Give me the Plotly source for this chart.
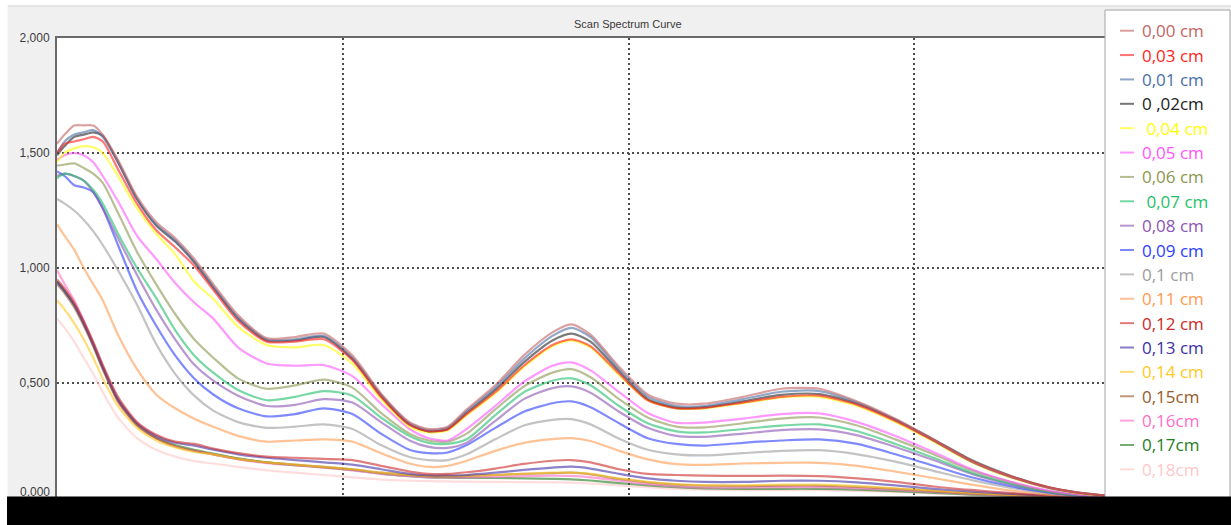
import plotly.graph_objects as go

# Wavelength samples (nm) shared by every scan
wavelength = [200, 204, 209, 214, 219, 224, 232, 242, 252, 262, 272, 282, 295, 310,
              325, 340, 355, 370, 385, 395, 405, 415, 430, 445, 460, 470, 480, 495,
              510, 525, 540, 560, 580, 600, 620, 640, 660, 680, 700, 720, 735, 750]

labels = ["0,00 cm", "0,03 cm", "0,01 cm", "0 ,02cm", " 0,04 cm", "0,05 cm", "0,06 cm",
          " 0,07 cm", "0,08 cm", "0,09 cm", "0,1 cm", "0,11 cm", "0,12 cm", "0,13 cm",
          "0,14 cm", "0,15cm", "0,16cm", "0,17cm", "0,18cm"]

colors = ["#c46464", "#ff1e1e", "#4a6fa5", "#222222", "#ffff00", "#ff55ff", "#8c9650",
          "#1fbf6a", "#8b55b5", "#2b3dff", "#9c9c9c", "#ff9a50", "#cc2a2a", "#4030a8",
          "#ffc81e", "#9a5a2a", "#ff6ec8", "#1e7d1e", "#ffc8c8"]

s_000 = [1.54, 1.58, 1.62, 1.62, 1.62, 1.58, 1.47, 1.31, 1.20, 1.13, 1.04, 0.93, 0.795, 0.695,
         0.70, 0.715, 0.62, 0.455, 0.33, 0.30, 0.31, 0.385, 0.49, 0.62, 0.72, 0.755, 0.71, 0.57,
         0.45, 0.41, 0.41, 0.44, 0.475, 0.475, 0.42, 0.345, 0.255, 0.16, 0.095, 0.045, 0.025, 0.012]
s_003 = [1.50, 1.54, 1.55, 1.56, 1.57, 1.55, 1.43, 1.28, 1.165, 1.09, 1.01, 0.905, 0.77, 0.68,
         0.68, 0.69, 0.60, 0.44, 0.318, 0.29, 0.298, 0.365, 0.46, 0.575, 0.665, 0.69, 0.66, 0.54,
         0.425, 0.39, 0.392, 0.415, 0.44, 0.445, 0.405, 0.335, 0.25, 0.16, 0.095, 0.047, 0.024, 0.011]
s_001 = [1.50, 1.55, 1.58, 1.59, 1.60, 1.57, 1.46, 1.30, 1.19, 1.12, 1.03, 0.92, 0.785, 0.69,
         0.69, 0.705, 0.61, 0.45, 0.325, 0.295, 0.305, 0.378, 0.48, 0.605, 0.705, 0.74, 0.70, 0.56,
         0.44, 0.40, 0.40, 0.43, 0.462, 0.465, 0.415, 0.34, 0.25, 0.158, 0.093, 0.045, 0.024, 0.011]
s_002 = [1.49, 1.53, 1.57, 1.58, 1.59, 1.575, 1.46, 1.30, 1.185, 1.115, 1.025, 0.915, 0.78, 0.685,
         0.685, 0.70, 0.605, 0.445, 0.32, 0.29, 0.30, 0.37, 0.47, 0.59, 0.685, 0.715, 0.68, 0.55,
         0.43, 0.393, 0.395, 0.42, 0.448, 0.452, 0.41, 0.34, 0.255, 0.165, 0.098, 0.048, 0.025, 0.011]
s_004 = [1.46, 1.50, 1.52, 1.53, 1.525, 1.50, 1.40, 1.26, 1.15, 1.06, 0.94, 0.865, 0.745, 0.665,
         0.655, 0.665, 0.585, 0.43, 0.31, 0.285, 0.295, 0.36, 0.455, 0.57, 0.66, 0.685, 0.655, 0.535,
         0.425, 0.39, 0.39, 0.412, 0.437, 0.44, 0.40, 0.33, 0.245, 0.155, 0.09, 0.045, 0.022, 0.01]
s_005 = [1.47, 1.49, 1.50, 1.49, 1.46, 1.40, 1.29, 1.14, 1.04, 0.935, 0.85, 0.78, 0.655, 0.585,
         0.575, 0.578, 0.53, 0.41, 0.30, 0.26, 0.25, 0.30, 0.40, 0.505, 0.575, 0.59, 0.555, 0.46,
         0.37, 0.327, 0.328, 0.345, 0.365, 0.368, 0.33, 0.27, 0.20, 0.125, 0.072, 0.033, 0.016, 0.006]
s_006 = [1.445, 1.45, 1.455, 1.435, 1.41, 1.37, 1.24, 1.07, 0.93, 0.80, 0.69, 0.61, 0.52, 0.475,
         0.49, 0.515, 0.48, 0.37, 0.28, 0.25, 0.245, 0.28, 0.385, 0.485, 0.545, 0.56, 0.525, 0.43,
         0.35, 0.31, 0.307, 0.325, 0.345, 0.35, 0.315, 0.255, 0.19, 0.12, 0.07, 0.03, 0.015, 0.006]
s_007 = [1.39, 1.41, 1.40, 1.38, 1.34, 1.28, 1.15, 1.00, 0.87, 0.73, 0.62, 0.545, 0.47, 0.425,
         0.44, 0.465, 0.445, 0.35, 0.27, 0.24, 0.235, 0.255, 0.36, 0.46, 0.51, 0.52, 0.49, 0.40,
         0.325, 0.29, 0.285, 0.30, 0.315, 0.32, 0.29, 0.235, 0.175, 0.11, 0.063, 0.028, 0.013, 0.005]
s_008 = [1.40, 1.41, 1.40, 1.38, 1.33, 1.26, 1.13, 0.97, 0.82, 0.69, 0.58, 0.51, 0.445, 0.40,
         0.405, 0.43, 0.415, 0.33, 0.25, 0.222, 0.218, 0.24, 0.335, 0.43, 0.478, 0.485, 0.458, 0.375,
         0.305, 0.27, 0.266, 0.28, 0.295, 0.298, 0.272, 0.222, 0.165, 0.105, 0.06, 0.027, 0.012, 0.005]
s_009 = [1.42, 1.40, 1.36, 1.35, 1.33, 1.26, 1.10, 0.90, 0.75, 0.62, 0.52, 0.45, 0.39, 0.355,
         0.365, 0.39, 0.365, 0.28, 0.21, 0.195, 0.198, 0.23, 0.305, 0.375, 0.412, 0.42, 0.395, 0.325,
         0.26, 0.235, 0.228, 0.24, 0.25, 0.255, 0.235, 0.19, 0.14, 0.09, 0.052, 0.024, 0.011, 0.004]
s_010 = [1.30, 1.28, 1.25, 1.21, 1.16, 1.10, 0.99, 0.84, 0.67, 0.54, 0.445, 0.38, 0.33, 0.305,
         0.31, 0.32, 0.30, 0.23, 0.178, 0.165, 0.165, 0.19, 0.255, 0.315, 0.34, 0.343, 0.32, 0.258,
         0.21, 0.19, 0.185, 0.195, 0.205, 0.208, 0.19, 0.158, 0.118, 0.078, 0.045, 0.02, 0.009, 0.003]
s_011 = [1.19, 1.14, 1.08, 1.00, 0.93, 0.86, 0.71, 0.56, 0.45, 0.39, 0.345, 0.31, 0.27, 0.245,
         0.25, 0.255, 0.245, 0.195, 0.15, 0.135, 0.14, 0.162, 0.205, 0.24, 0.256, 0.26, 0.248, 0.205,
         0.168, 0.147, 0.144, 0.15, 0.153, 0.153, 0.14, 0.115, 0.087, 0.058, 0.033, 0.015, 0.007, 0.003]
s_012 = [0.95, 0.91, 0.85, 0.77, 0.68, 0.58, 0.44, 0.33, 0.275, 0.245, 0.235, 0.215, 0.195, 0.18,
         0.175, 0.17, 0.165, 0.14, 0.115, 0.105, 0.105, 0.112, 0.128, 0.148, 0.162, 0.165, 0.155, 0.125,
         0.105, 0.10, 0.097, 0.096, 0.097, 0.095, 0.085, 0.07, 0.05, 0.035, 0.022, 0.012, 0.006, 0.002]
s_013 = [0.94, 0.90, 0.84, 0.76, 0.67, 0.57, 0.43, 0.325, 0.27, 0.24, 0.228, 0.21, 0.19, 0.175,
         0.165, 0.155, 0.145, 0.125, 0.105, 0.098, 0.098, 0.10, 0.11, 0.122, 0.132, 0.136, 0.128, 0.105,
         0.085, 0.075, 0.07, 0.07, 0.075, 0.075, 0.068, 0.055, 0.04, 0.028, 0.018, 0.01, 0.005, 0.002]
s_014 = [0.86, 0.82, 0.76, 0.69, 0.61, 0.52, 0.40, 0.305, 0.25, 0.22, 0.20, 0.19, 0.17, 0.155,
         0.145, 0.135, 0.125, 0.11, 0.10, 0.095, 0.095, 0.097, 0.10, 0.105, 0.11, 0.11, 0.105, 0.085,
         0.07, 0.06, 0.055, 0.055, 0.058, 0.058, 0.052, 0.042, 0.032, 0.022, 0.014, 0.008, 0.004, 0.002]
s_015 = [0.93, 0.89, 0.83, 0.75, 0.66, 0.56, 0.42, 0.315, 0.26, 0.225, 0.205, 0.19, 0.17, 0.155,
         0.145, 0.135, 0.125, 0.11, 0.10, 0.095, 0.094, 0.096, 0.10, 0.105, 0.108, 0.11, 0.103, 0.083,
         0.068, 0.058, 0.054, 0.052, 0.054, 0.054, 0.048, 0.04, 0.03, 0.02, 0.013, 0.007, 0.004, 0.002]
s_016 = [0.99, 0.93, 0.86, 0.77, 0.67, 0.57, 0.42, 0.315, 0.26, 0.225, 0.205, 0.19, 0.168, 0.152,
         0.142, 0.132, 0.12, 0.105, 0.095, 0.09, 0.09, 0.09, 0.092, 0.095, 0.097, 0.096, 0.09, 0.075,
         0.06, 0.05, 0.045, 0.045, 0.047, 0.047, 0.042, 0.035, 0.026, 0.018, 0.011, 0.006, 0.003, 0.001]
s_017 = [0.94, 0.90, 0.84, 0.76, 0.665, 0.565, 0.425, 0.32, 0.262, 0.23, 0.21, 0.193, 0.172, 0.155,
         0.143, 0.133, 0.122, 0.106, 0.095, 0.09, 0.088, 0.087, 0.087, 0.085, 0.083, 0.081, 0.076, 0.065,
         0.055, 0.047, 0.042, 0.04, 0.04, 0.04, 0.036, 0.03, 0.022, 0.015, 0.009, 0.005, 0.002, 0.001]
s_018 = [0.78, 0.74, 0.68, 0.61, 0.54, 0.46, 0.35, 0.26, 0.21, 0.18, 0.16, 0.15, 0.135, 0.12,
         0.11, 0.10, 0.09, 0.08, 0.075, 0.073, 0.072, 0.071, 0.07, 0.069, 0.068, 0.067, 0.063, 0.055,
         0.047, 0.04, 0.036, 0.034, 0.034, 0.034, 0.031, 0.026, 0.02, 0.014, 0.009, 0.005, 0.002, 0.001]

series = [s_000, s_003, s_001, s_002, s_004, s_005, s_006, s_007, s_008, s_009,
          s_010, s_011, s_012, s_013, s_014, s_015, s_016, s_017, s_018]

# Canvas geometry (pixels) used to place the frame, title and key
FIG_W, FIG_H = 1231, 525
L, R, T, B = 57, 1105, 38, 498
W, H = R - L, B - T


def fx(px):
    return (px - L) / W


def fy(py):
    return (B - py) / H


fig = go.Figure()

# bottom group first so the upper curves sit on top
for name, col, vals in reversed(list(zip(labels, colors, series))):
    fig.add_trace(go.Scatter(
        x=wavelength, y=vals, mode="lines", name=name.strip(),
        line=dict(color=col, width=2.2, shape="spline", smoothing=0.7),
        opacity=0.6, showlegend=False, hoverinfo="x+y+name"))

grid_style = dict(showgrid=True, gridcolor="#4d4d4d", gridwidth=2, griddash="2px,3px")

fig.update_layout(
    width=FIG_W, height=FIG_H,
    margin=dict(l=L, r=FIG_W - R, t=T, b=FIG_H - B),
    paper_bgcolor="#f0f0f0", plot_bgcolor="white",
    separators=",.",
    xaxis=dict(range=[200, 750], tickmode="array", tickvals=[350, 500, 650],
               showticklabels=False, ticks="", zeroline=False,
               showline=True, mirror=True, linecolor="#6a6a6a", linewidth=2, **grid_style),
    yaxis=dict(range=[0, 2], tickmode="array", tickvals=[0.5, 1.0, 1.5, 2.0],
               tickformat=".3f", ticks="outside", ticklen=3, tickcolor="rgba(0,0,0,0)",
               tickfont=dict(family="Liberation Sans", size=12, color="#3c3c3c"),
               zeroline=False, showline=True, mirror=False,
               linecolor="#6a6a6a", linewidth=2, **grid_style),
)

shapes = []
# white margin strips and separator along the top
shapes.append(dict(type="rect", xref="paper", yref="paper", layer="below",
                   x0=fx(0), x1=fx(FIG_W), y0=fy(5.5), y1=fy(0),
                   fillcolor="white", line=dict(width=0)))
shapes.append(dict(type="line", xref="paper", yref="paper", layer="below",
                   x0=fx(8), x1=fx(FIG_W), y0=fy(6), y1=fy(6),
                   line=dict(color="#d6d6d6", width=1)))
shapes.append(dict(type="rect", xref="paper", yref="paper", layer="below",
                   x0=fx(0), x1=fx(7.5), y0=fy(FIG_H), y1=fy(0),
                   fillcolor="white", line=dict(width=0)))

# key box
shapes.append(dict(type="rect", xref="paper", yref="paper", layer="above",
                   x0=fx(1105), x1=fx(1230), y0=fy(FIG_H), y1=fy(10),
                   fillcolor="white", line=dict(color="#a4a4a4", width=1)))

annotations = []
key_top, key_step = 30.7, 24.37
for i, (name, col) in enumerate(zip(labels, colors)):
    yy = fy(key_top + i * key_step)
    shapes.append(dict(type="line", xref="paper", yref="paper", layer="above",
                       x0=fx(1120), x1=fx(1134), y0=yy, y1=yy,
                       line=dict(color=col, width=2), opacity=0.62))
    shown = name.replace(" ", "\u00a0") if name.startswith(" ") else name
    annotations.append(dict(xref="paper", yref="paper", x=fx(1140), y=yy,
                            xanchor="left", yanchor="middle", showarrow=False,
                            text=shown,
                            font=dict(family="Open Sans", size=17, color=col)))

# dark band across the bottom edge
shapes.append(dict(type="rect", xref="paper", yref="paper", layer="above",
                   x0=fx(7), x1=fx(FIG_W), y0=fy(FIG_H + 2), y1=fy(496.5),
                   fillcolor="black", line=dict(width=0)))

# title
annotations.append(dict(xref="paper", yref="paper", x=fx(628), y=fy(24.5),
                        xanchor="center", yanchor="middle", showarrow=False,
                        text="Scan Spectrum Curve",
                        font=dict(family="Liberation Sans", size=11, color="#3a3a3a")))
# lowest value label, lifted clear of the bottom edge
annotations.append(dict(xref="paper", yref="y", x=fx(52), y=0, yshift=6,
                        xanchor="right", yanchor="middle", showarrow=False,
                        text="0,000",
                        font=dict(family="Liberation Sans", size=12, color="#3c3c3c")))

fig.update_layout(shapes=shapes, annotations=annotations)

fig.write_html("out.html")
